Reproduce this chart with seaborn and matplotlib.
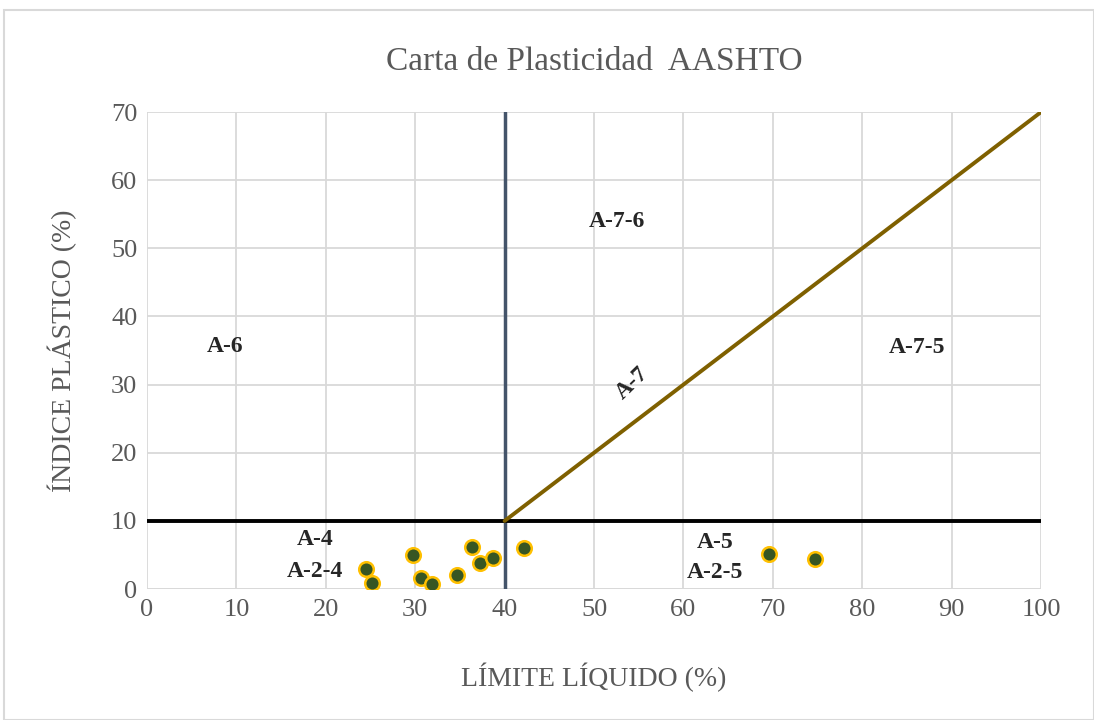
import matplotlib
matplotlib.use("Agg")
import matplotlib.pyplot as plt
import seaborn as sns
import pandas as pd
from matplotlib.patches import Rectangle

sns.set_theme(style="white")
plt.rcParams['font.family'] = ['Liberation Serif', 'DejaVu Serif']

ll = [24.5, 25.2, 29.8, 30.6, 31.9, 34.7, 36.3, 37.2, 38.7, 42.2, 69.6, 74.7]
ip = [2.9, 0.9, 5.0, 1.6, 0.7, 2.0, 6.2, 3.8, 4.6, 6.0, 5.1, 4.4]

a_line_x = [40, 100]
a_line_y = [10, 70]
ll_limit = [40, 40]
ll_limit_y = [0, 70]
ip_limit_x = [0, 100]
ip_limit_y = [10, 10]

zone_labels = ["A-6", "A-7-6", "A-7-5", "A-4", "A-2-4", "A-5", "A-2-5"]
zone_x = [8.7, 52.6, 86.1, 18.8, 18.8, 63.5, 63.5]
zone_y = [35.6, 54.0, 35.4, 7.2, 2.6, 6.9, 2.4]

x_ticks = list(range(0, 101, 10))
y_ticks = list(range(0, 71, 10))

df = pd.DataFrame({"LL": ll, "IP": ip})

fig = plt.figure(figsize=(10.94, 7.20), dpi=100)
ax = fig.add_axes([0.1344, 0.1819, 0.9516 - 0.1344, 0.8444 - 0.1819])

fig.patches.append(Rectangle((0.004, 0.0), 0.996, 0.986, transform=fig.transFigure,
                             fill=False, edgecolor='#d9d9d9', linewidth=1.5))

ax.set_xlim(0, 100)
ax.set_ylim(0, 70)
ax.set_xticks(x_ticks)
ax.set_yticks(y_ticks)
ax.grid(True, color='#d9d9d9', linewidth=1.3)
for s in ax.spines.values():
    s.set_visible(False)
ax.axhline(0, color='#d9d9d9', linewidth=1.3, zorder=1)

sns.lineplot(x=ll_limit, y=ll_limit_y, ax=ax, color='#44546A', linewidth=2.5,
             estimator=None, sort=False, zorder=3)
sns.lineplot(x=ip_limit_x, y=ip_limit_y, ax=ax, color='black', linewidth=2.8,
             estimator=None, sort=False, zorder=3)
sns.lineplot(x=a_line_x, y=a_line_y, ax=ax, color='#7F6000', linewidth=2.8,
             estimator=None, sort=False, zorder=3)

sns.scatterplot(data=df, x="LL", y="IP", ax=ax, s=110, color='#375623',
                edgecolor='#FFC000', linewidth=1.8, zorder=5)

for lab, x, y in zip(zone_labels, zone_x, zone_y):
    ax.text(x, y, lab, fontsize=17, fontweight='bold', ha='center', va='center', zorder=6)
ax.text(54.3, 30.2, "A-7", fontsize=17, fontweight='bold', ha='center', va='center',
        rotation=44, zorder=6)

ax.tick_params(axis='both', labelsize=19, colors='#595959', length=0)
ax.tick_params(axis='y', pad=7)
ax.tick_params(axis='x', pad=7)
ax.set_xlabel("LÍMITE LÍQUIDO (%)", fontsize=20, color='#595959', labelpad=30)
ax.set_ylabel("ÍNDICE PLÁSTICO (%)", fontsize=20, color='#595959', labelpad=24)
ax.set_title("Carta de Plasticidad  AASHTO", fontsize=24, color='#595959', pad=30)

fig.savefig("out.png", dpi=100)
